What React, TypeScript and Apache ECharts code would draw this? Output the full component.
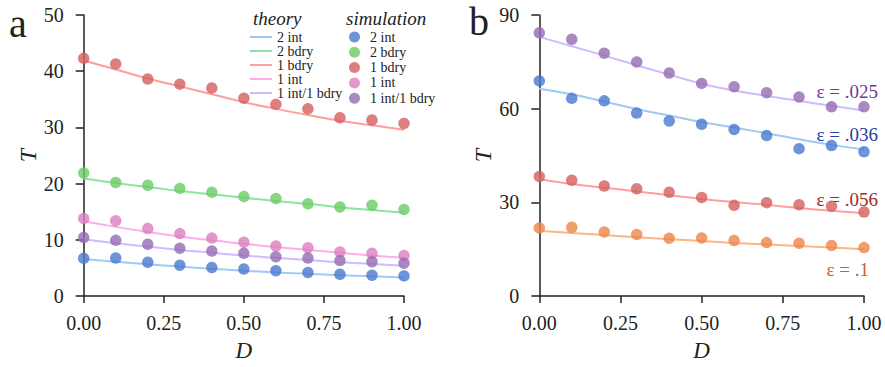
import React, { useEffect, useRef } from "react";
import * as echarts from "echarts";

// ---------- data ----------
const D = [0, 0.1, 0.2, 0.3, 0.4, 0.5, 0.6, 0.7, 0.8, 0.9, 1.0];

// panel a
const groupNames = ["2 int", "2 bdry", "1 bdry", "1 int", "1 int/1 bdry"];
const theory2int = [6.57, 6.1, 5.65, 5.25, 4.85, 4.5, 4.2, 3.95, 3.7, 3.5, 3.3];
const sim2int = [6.7, 6.75, 6.0, 5.48, 5.07, 4.79, 4.5, 4.2, 3.86, 3.7, 3.58];
const theory2bdry = [20.9, 20.1, 19.4, 18.7, 18.1, 17.5, 16.9, 16.4, 15.8, 15.3, 14.8];
const sim2bdry = [21.9, 20.2, 19.7, 19.15, 18.45, 17.7, 17.35, 16.4, 15.85, 16.15, 15.4];
const theory1bdry = [41.9, 40.3, 38.7, 37.3, 35.9, 34.5, 33.3, 32.2, 31.2, 30.4, 29.6];
const sim1bdry = [42.3, 41.3, 38.6, 37.7, 37.0, 35.2, 34.1, 33.3, 31.7, 31.3, 30.7];
const theory1int = [13.3, 12.3, 11.4, 10.6, 9.9, 9.3, 8.7, 8.2, 7.7, 7.2, 6.8];
const sim1int = [13.8, 13.4, 12.0, 11.1, 10.3, 9.57, 8.88, 8.6, 7.85, 7.6, 7.2];
const theoryMixed = [10.1, 9.4, 8.8, 8.2, 7.7, 7.2, 6.8, 6.4, 6.0, 5.7, 5.4];
const simMixed = [10.4, 9.9, 9.2, 8.5, 8.0, 7.6, 7.0, 6.75, 6.3, 6.1, 5.83];

// panel b
const epsLabels = [".025", ".036", ".056", ".1"];
const theoryE025 = [83.0, 80.0, 77.0, 73.9, 70.9, 68.0, 65.8, 64.1, 62.5, 60.9, 59.4];
const simE025 = [84.3, 82.2, 77.75, 74.95, 71.4, 68.1, 67.05, 65.1, 63.75, 60.6, 60.6];
const theoryE036 = [66.4, 64.6, 62.3, 59.9, 57.8, 55.7, 54.0, 52.1, 50.2, 48.4, 46.9];
const simE036 = [68.9, 63.3, 62.5, 58.6, 56.05, 55.0, 53.35, 51.4, 47.2, 48.2, 46.2];
const theoryE056 = [37.4, 35.9, 34.7, 33.5, 32.3, 31.1, 30.1, 29.2, 28.2, 27.3, 26.5];
const simE056 = [38.3, 37.06, 35.2, 34.35, 33.2, 31.55, 29.06, 29.9, 29.2, 28.75, 26.9];
const theoryE1 = [20.9, 20.2, 19.5, 18.8, 18.2, 17.6, 17.0, 16.5, 16.0, 15.5, 15.0];
const simE1 = [21.8, 22.0, 20.5, 19.7, 18.5, 18.6, 17.75, 17.1, 16.9, 16.2, 15.5];

// ---------- styles ----------
const FONT = "Liberation Serif";
const INK = "#222222";
const colA_dark = ["#4878d0", "#6acc64", "#d65f5f", "#dc7ec0", "#956cb4"];
const colA_light = ["#a1c9f4", "#8de5a1", "#ff9f9b", "#fab0e4", "#d0bbff"];
const colB_dark = ["#956cb4", "#4878d0", "#d65f5f", "#ee854a"];
const colB_light = ["#d0bbff", "#a1c9f4", "#ff9f9b", "#ffb482"];
const colB_text = ["#6f3c91", "#26409a", "#9e2a2a", "#c9602a"];

const pair = (ys: number[]) => D.map((d, i) => [d, ys[i]]);

export default function App() {
  const ref = useRef<HTMLDivElement>(null);
  useEffect(() => {
    if (!ref.current) return;
    const chart = echarts.init(ref.current, null, { renderer: "svg" });

    const theoryA = [theory2int, theory2bdry, theory1bdry, theory1int, theoryMixed];
    const simA = [sim2int, sim2bdry, sim1bdry, sim1int, simMixed];
    const theoryB = [theoryE025, theoryE036, theoryE056, theoryE1];
    const simB = [simE025, simE036, simE056, simE1];

    const xAxisBase = (gi: number) => ({
      type: "value",
      gridIndex: gi,
      min: 0,
      max: 1,
      interval: 0.25,
      offset: 8,
      name: "D",
      nameLocation: "middle",
      nameGap: 35,
      nameTextStyle: { fontFamily: FONT, fontStyle: "italic", fontSize: 23, color: INK },
      axisLine: { show: true, lineStyle: { color: INK, width: 1.5 } },
      axisTick: { show: true, length: 7, lineStyle: { color: INK, width: 1.5 } },
      axisLabel: {
        fontFamily: FONT,
        fontSize: 20,
        color: INK,
        margin: 9,
        formatter: (v: number) => v.toFixed(2),
      },
      splitLine: { show: false },
    });
    const yAxisBase = (gi: number, max: number, interval: number) => ({
      type: "value",
      gridIndex: gi,
      min: 0,
      max,
      interval,
      offset: 8,
      name: "T",
      nameLocation: "middle",
      nameGap: 35,
      nameTextStyle: { fontFamily: FONT, fontStyle: "italic", fontSize: 24, color: INK },
      axisLine: { show: true, lineStyle: { color: INK, width: 1.5 } },
      axisTick: { show: true, length: 8, lineStyle: { color: INK, width: 1.5 } },
      axisLabel: { fontFamily: FONT, fontSize: 20, color: INK, margin: 12 },
      splitLine: { show: false },
    });

    const series: any[] = [];
    groupNames.forEach((g, i) => {
      series.push({
        name: "theory|" + g,
        type: "line",
        xAxisIndex: 0,
        yAxisIndex: 0,
        data: pair(theoryA[i]),
        smooth: true,
        symbol: "none",
        color: colA_light[i],
        lineStyle: { color: colA_light[i], width: 2 },
        z: 2,
      });
    });
    groupNames.forEach((g, i) => {
      series.push({
        name: "sim|" + g,
        type: "scatter",
        xAxisIndex: 0,
        yAxisIndex: 0,
        data: pair(simA[i]),
        symbol: "circle",
        symbolSize: 11.5,
        color: colA_dark[i],
        itemStyle: { color: colA_dark[i] },
        z: 3,
      });
    });
    epsLabels.forEach((e, i) => {
      series.push({
        name: "b-theory " + e,
        type: "line",
        xAxisIndex: 1,
        yAxisIndex: 1,
        data: pair(theoryB[i]),
        smooth: true,
        symbol: "none",
        color: colB_light[i],
        lineStyle: { color: colB_light[i], width: 2 },
        z: 2,
      });
      series.push({
        name: "b-sim " + e,
        type: "scatter",
        xAxisIndex: 1,
        yAxisIndex: 1,
        data: pair(simB[i]),
        symbol: "circle",
        symbolSize: 11.5,
        color: colB_dark[i],
        itemStyle: { color: colB_dark[i] },
        z: 3,
      });
    });

    const epsY = [91, 134, 199, 269];
    const epsX = [878, 878, 878, 869];
    const graphics: any[] = [
      { type: "text", left: 9, top: 3, style: { text: "a", fontFamily: FONT, fontSize: 40, fill: INK } },
      { type: "text", left: 469, top: 1, style: { text: "b", fontFamily: FONT, fontSize: 40, fill: INK } },
      {
        type: "text",
        left: 253,
        top: 9,
        style: { text: "theory", fontFamily: FONT, fontStyle: "italic", fontSize: 19, fill: INK },
      },
      {
        type: "text",
        left: 346,
        top: 9,
        style: { text: "simulation", fontFamily: FONT, fontStyle: "italic", fontSize: 19, fill: INK },
      },
    ];
    epsLabels.forEach((e, i) => {
      graphics.push({
        type: "text",
        x: epsX[i],
        y: epsY[i],
        style: {
          text: "ε = " + e,
          fontFamily: FONT,
          fontSize: 19,
          fill: colB_text[i],
          align: "right",
          verticalAlign: "middle",
        },
      });
    });

    const legendText = { fontFamily: FONT, fontSize: 14, color: INK };
    chart.setOption({
      animation: false,
      grid: [
        { left: 83.7, top: 15, width: 320.3, height: 289 },
        { left: 539.3, top: 15, width: 324.7, height: 289 },
      ],
      xAxis: [xAxisBase(0), xAxisBase(1)],
      yAxis: [yAxisBase(0, 50, 10), yAxisBase(1, 90, 30)],
      legend: [
        {
          data: groupNames.map((g) => "theory|" + g),
          orient: "vertical",
          left: 250,
          top: 30,
          padding: 0,
          itemGap: 0,
          itemWidth: 22,
          itemHeight: 12.3,
          icon: "path://M0,5.3 L22,5.3 L22,7.3 L0,7.3 Z",
          selectedMode: false,
          formatter: (n: string) => n.split("|")[1],
          textStyle: legendText,
        },
        {
          data: groupNames.map((g) => "sim|" + g),
          orient: "vertical",
          left: 349,
          top: 30,
          padding: 0,
          itemGap: 1.3,
          itemWidth: 21,
          itemHeight: 11,
          icon: "circle",
          selectedMode: false,
          formatter: (n: string) => n.split("|")[1],
          textStyle: legendText,
        },
      ],
      graphic: graphics,
      series,
    });
    return () => chart.dispose();
  }, []);
  return <div ref={ref} style={{ position: "absolute", left: 0, top: 0, width: 885, height: 367 }} />;
}
